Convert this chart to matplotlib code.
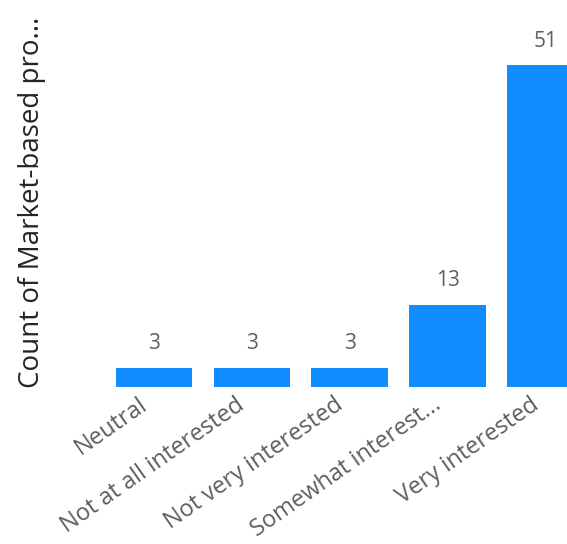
import matplotlib.pyplot as plt
from matplotlib.transforms import ScaledTranslation

categories = ["Neutral", "Not at all interested", "Not very interested",
              "Somewhat interest...", "Very interested"]
counts = [3, 3, 3, 13, 51]

plt.rcParams['font.family'] = ['Open Sans', 'DejaVu Sans']

fig = plt.figure(figsize=(5.67, 5.44), dpi=100)
ax = fig.add_axes([0.185, 0.289, 0.815, 0.637])

x = list(range(len(categories)))
bars = ax.bar(x, counts, width=0.78, color='#118DFF', clip_on=True)

for xi, c in zip(x, counts):
	ax.annotate(str(c), (xi, c), xytext=(0, 10), textcoords='offset points',
		ha='center', va='bottom', fontsize=15, color='#605E5C')

ax.set_xlim(-0.5, 4.22)
ax.set_ylim(0, 55)
ax.tick_params(axis='x', length=0, pad=3)
ax.set_xticks(x)
ax.set_xticklabels(categories, rotation=35, ha='right', va='top', rotation_mode='anchor',
	fontsize=17, color='#605E5C')
# nudge labels left like the original
shift = ScaledTranslation(-16 / 100, -2 / 100, fig.dpi_scale_trans)
for lbl in ax.get_xticklabels():
	lbl.set_transform(lbl.get_transform() + shift)
ax.set_yticks([])
ax.set_ylabel("Count of Market-based pro...", fontsize=20, color='#252423',
	fontweight='medium')
ax.yaxis.set_label_coords(-0.127, 0.533)
for s in ax.spines.values():
	s.set_visible(False)

fig.savefig('out.png', dpi=100)
